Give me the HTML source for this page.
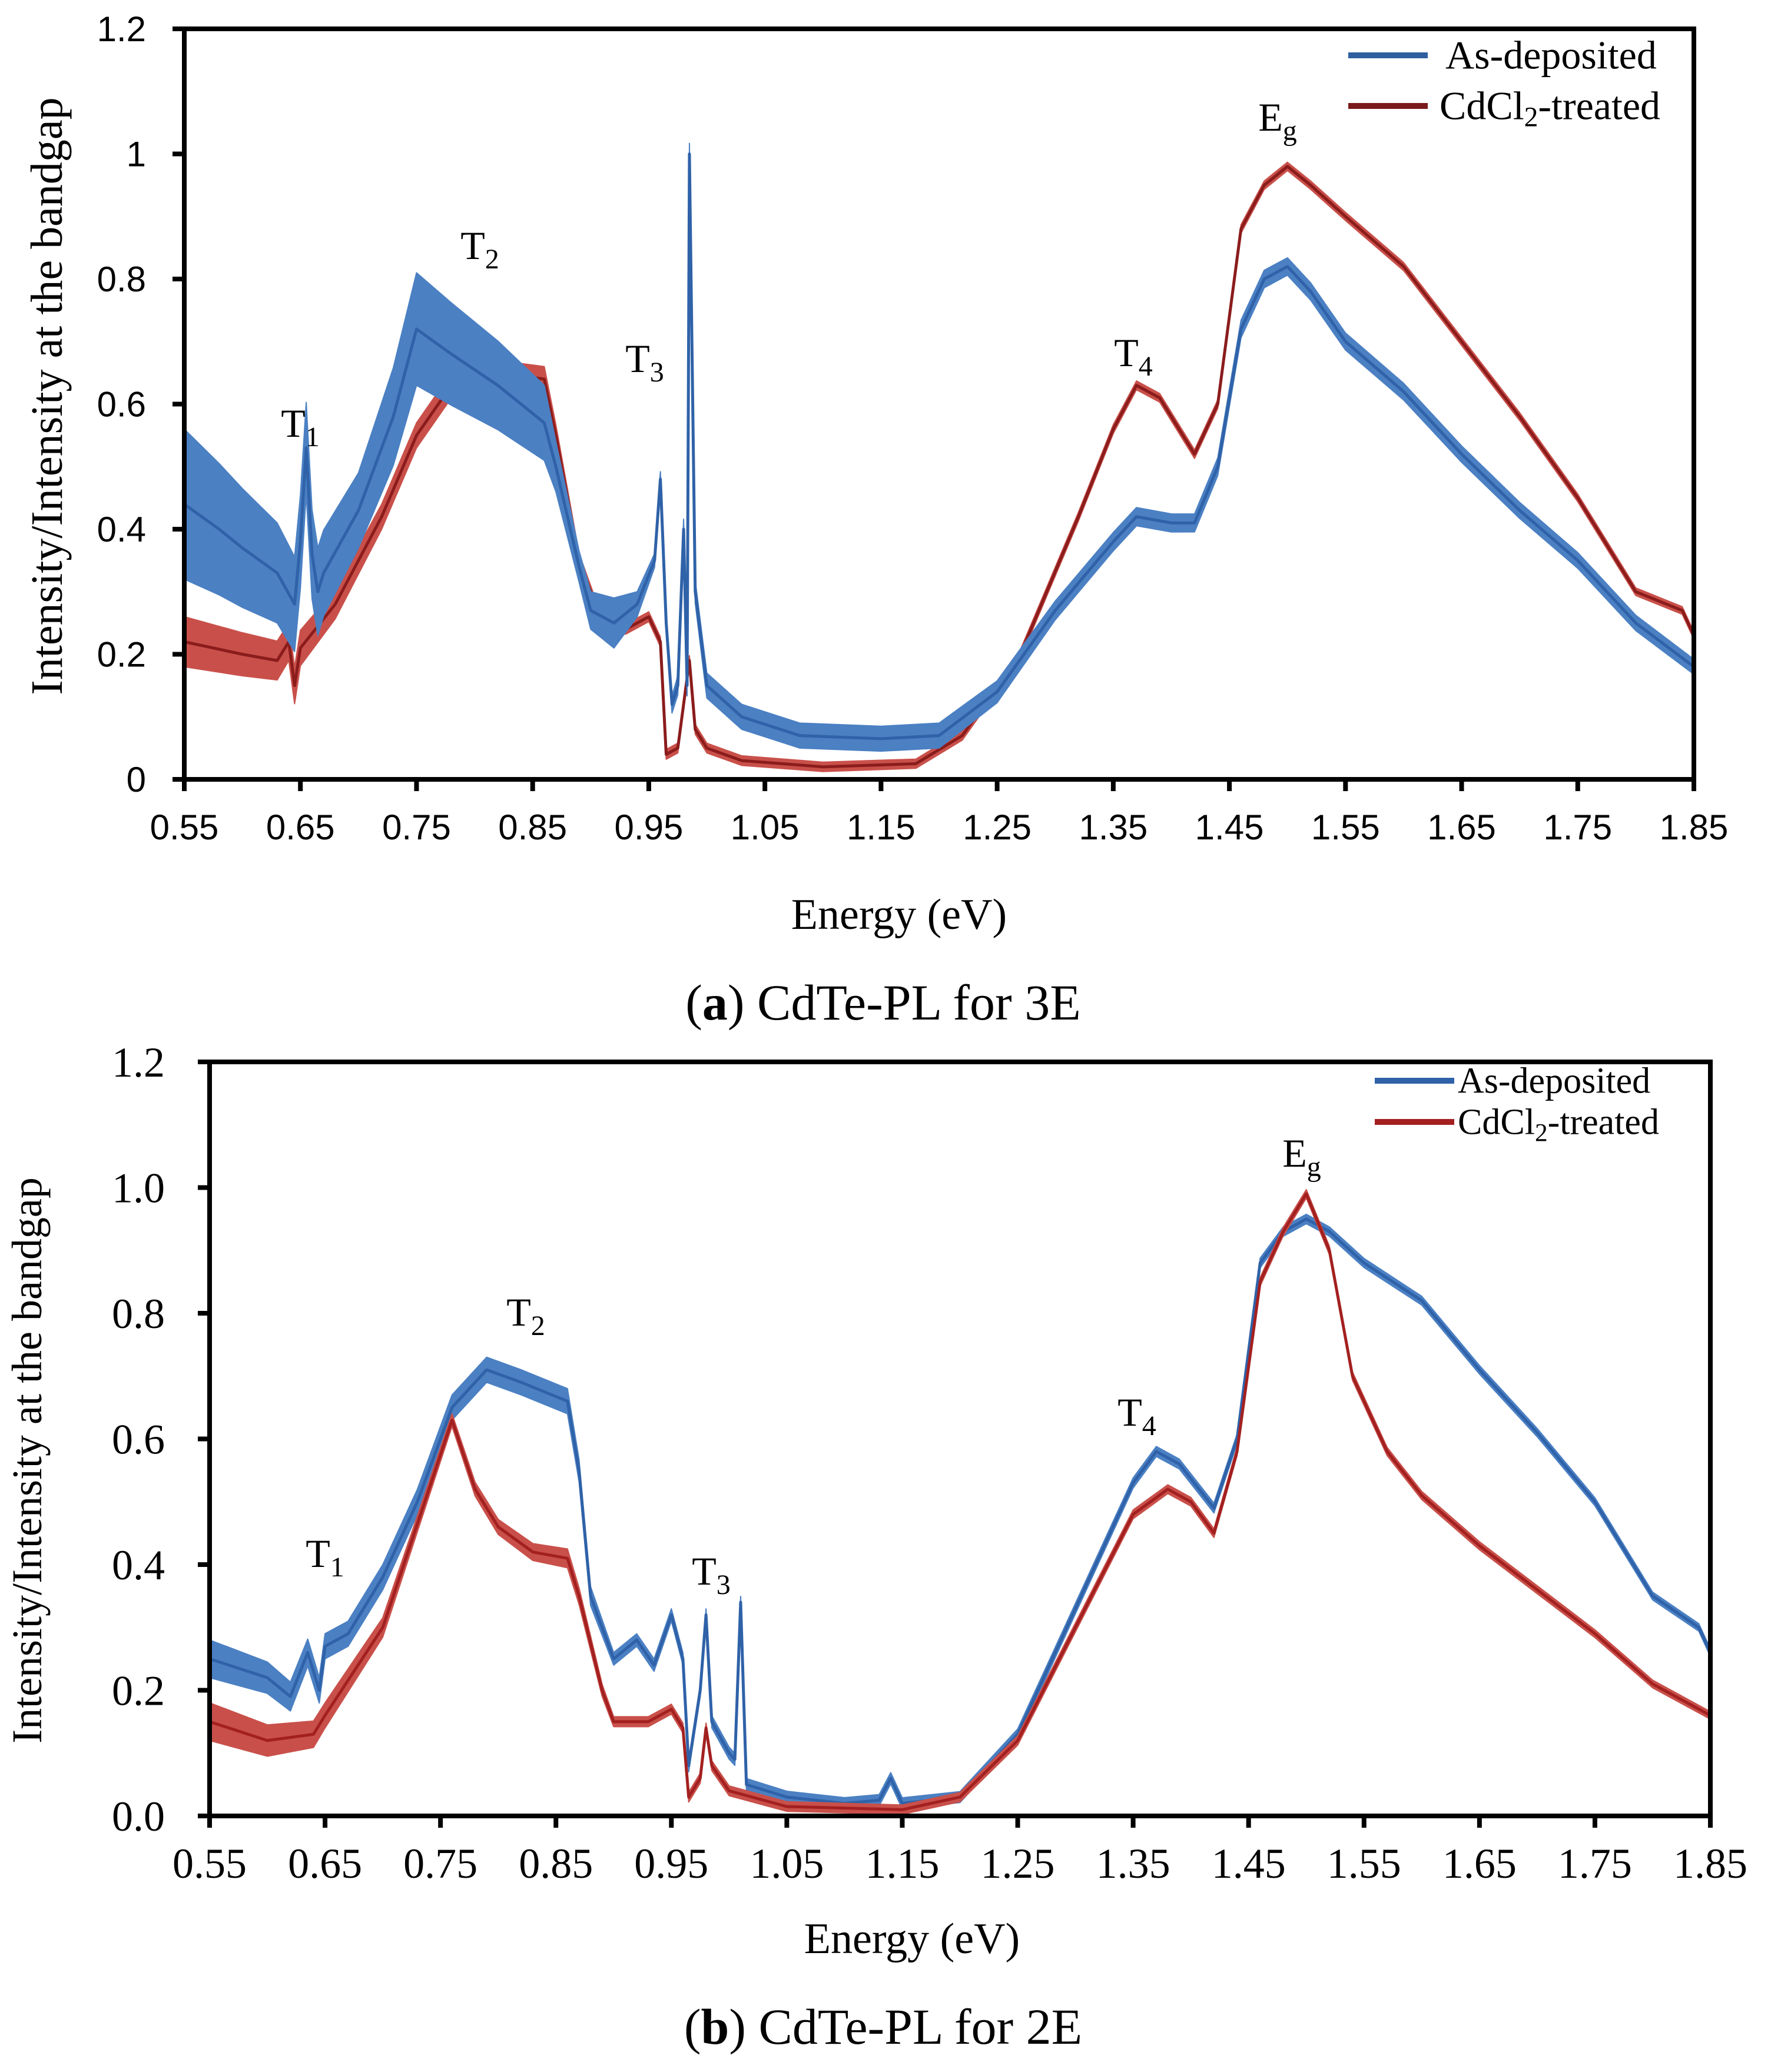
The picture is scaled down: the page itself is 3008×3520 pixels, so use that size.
<!DOCTYPE html>
<html><head><meta charset="utf-8">
<style>
html,body{margin:0;padding:0;background:#fff;}
svg{display:block;}
</style></head>
<body>
<svg id="fig" xmlns="http://www.w3.org/2000/svg" width="3008" height="3520" viewBox="0 0 3008 3520">
<rect width="3008" height="3520" fill="#fff"/>
<g id="pa"></g>
<g id="pb"></g>
</svg>
<script>
const xTicks = [0.55,0.65,0.75,0.85,0.95,1.05,1.15,1.25,1.35,1.45,1.55,1.65,1.75,1.85];
const yTicks = [0,0.2,0.4,0.6,0.8,1.0,1.2];
const yLabelsA = ["0","0.2","0.4","0.6","0.8","1","1.2"];
const yLabelsB = ["0.0","0.2","0.4","0.6","0.8","1.0","1.2"];

// Panel a, as-deposited
const aBlueX = [0.55,0.58,0.60,0.63,0.645,0.65,0.655,0.66,0.665,0.67,0.70,0.73,0.75,0.78,0.82,0.86,0.87,0.89,0.90,0.92,0.94,0.955,0.96,0.965,0.97,0.975,0.98,0.983,0.985,0.99,1.0,1.03,1.08,1.15,1.2,1.25,1.3,1.35,1.37,1.40,1.42,1.44,1.46,1.48,1.50,1.52,1.55,1.60,1.65,1.70,1.75,1.80,1.85];
const aBlueY = [0.44,0.40,0.37,0.33,0.28,0.38,0.53,0.36,0.30,0.33,0.43,0.58,0.72,0.68,0.63,0.57,0.50,0.34,0.27,0.25,0.28,0.35,0.48,0.25,0.12,0.15,0.40,0.15,1.0,0.30,0.15,0.10,0.07,0.065,0.07,0.14,0.27,0.38,0.42,0.41,0.41,0.50,0.72,0.80,0.82,0.78,0.70,0.62,0.52,0.43,0.35,0.25,0.18];
const aBlueSpreadX = [0.55,0.63,0.70,0.75,0.86,0.88,0.92,0.95,1.0,1.2,1.3,1.85];
const aBlueSpread = [0.12,0.08,0.06,0.09,0.06,0.02,0.04,0.01,0.02,0.02,0.015,0.012];
// Panel a, CdCl2-treated
const aRedX = [0.55,0.60,0.63,0.64,0.645,0.65,0.68,0.72,0.75,0.78,0.82,0.86,0.87,0.89,0.91,0.93,0.95,0.96,0.965,0.975,0.985,0.99,1.0,1.03,1.1,1.18,1.22,1.27,1.32,1.35,1.37,1.39,1.42,1.44,1.46,1.48,1.50,1.52,1.55,1.60,1.65,1.70,1.75,1.80,1.84,1.85];
const aRedY = [0.22,0.20,0.19,0.22,0.15,0.21,0.28,0.42,0.55,0.63,0.65,0.64,0.55,0.35,0.25,0.24,0.26,0.22,0.04,0.05,0.19,0.08,0.05,0.03,0.02,0.025,0.07,0.20,0.42,0.56,0.63,0.61,0.52,0.60,0.88,0.95,0.98,0.95,0.90,0.82,0.70,0.58,0.45,0.30,0.27,0.23];
const aRedSpreadX = [0.55,0.64,0.70,0.86,0.9,1.85];
const aRedSpread = [0.04,0.03,0.02,0.02,0.008,0.006];

// Panel b, as-deposited
const bBlueX = [0.55,0.60,0.62,0.635,0.645,0.65,0.67,0.70,0.73,0.76,0.79,0.82,0.86,0.87,0.88,0.90,0.92,0.935,0.95,0.96,0.965,0.975,0.98,0.985,1.0,1.005,1.01,1.015,1.05,1.1,1.13,1.14,1.15,1.2,1.25,1.3,1.35,1.37,1.39,1.42,1.44,1.46,1.48,1.50,1.52,1.55,1.60,1.65,1.70,1.75,1.80,1.84,1.85];
const bBlueY = [0.25,0.22,0.19,0.26,0.20,0.27,0.29,0.38,0.50,0.65,0.71,0.69,0.66,0.55,0.35,0.25,0.28,0.24,0.32,0.25,0.08,0.20,0.32,0.15,0.10,0.09,0.34,0.05,0.03,0.02,0.025,0.06,0.02,0.03,0.13,0.33,0.53,0.58,0.56,0.49,0.60,0.88,0.93,0.95,0.93,0.88,0.82,0.71,0.61,0.50,0.35,0.30,0.26];
const bBlueSpreadX = [0.55,0.65,0.76,0.86,0.9,1.85];
const bBlueSpread = [0.03,0.02,0.02,0.02,0.01,0.006];
// Panel b, CdCl2-treated
const bRedX = [0.55,0.60,0.64,0.65,0.70,0.74,0.76,0.78,0.80,0.83,0.86,0.87,0.89,0.90,0.93,0.95,0.96,0.965,0.975,0.98,0.985,1.0,1.05,1.15,1.2,1.25,1.3,1.35,1.38,1.40,1.42,1.44,1.46,1.48,1.50,1.52,1.54,1.57,1.60,1.65,1.70,1.75,1.80,1.85];
const bRedY = [0.15,0.12,0.13,0.16,0.30,0.52,0.63,0.52,0.46,0.42,0.41,0.35,0.20,0.15,0.15,0.17,0.14,0.03,0.06,0.14,0.08,0.04,0.015,0.01,0.03,0.12,0.30,0.48,0.52,0.50,0.45,0.58,0.85,0.93,0.99,0.90,0.70,0.58,0.51,0.43,0.36,0.29,0.21,0.16];
const bRedSpreadX = [0.55,0.65,0.76,0.86,0.9,1.85];
const bRedSpread = [0.03,0.02,0.01,0.015,0.008,0.006];

const NS = "http://www.w3.org/2000/svg";
function el(parent, tag, attrs, text){
  const e = document.createElementNS(NS, tag);
  for (const k in attrs) e.setAttribute(k, attrs[k]);
  if (text !== undefined) e.textContent = text;
  parent.appendChild(e);
  return e;
}
function interp(xs, vs, x){
  if (x <= xs[0]) return vs[0];
  for (let i=1;i<xs.length;i++) if (x <= xs[i]) { const t=(x-xs[i-1])/(xs[i]-xs[i-1]); return vs[i-1]+t*(vs[i]-vs[i-1]); }
  return vs[vs.length-1];
}

function drawPanel(g, cfg){
  const {L,R,T,B} = cfg;
  const sx = v => L + (v-0.55)/(1.85-0.55)*(R-L);
  const sy = v => B - v/1.2*(B-T);
  const ser = cfg.series;
  ser.forEach(s => {
    const up = s.x.map((x,i)=> sx(x)+","+sy(s.y[i]+interp(s.sx,s.sp,x)));
    const dn = s.x.map((x,i)=> sx(x)+","+sy(Math.max(0,s.y[i]-interp(s.sx,s.sp,x)))).reverse();
    const band = el(g,"polygon",{points:up.concat(dn).join(" "),fill:s.fill,stroke:s.fill,"stroke-width":2,"stroke-linejoin":"round"});
    
    
    const line = el(g,"polyline",{points:s.x.map((x,i)=>sx(x)+","+sy(s.y[i])).join(" "),fill:"none",stroke:s.color,"stroke-width":5,"stroke-linejoin":"round"});
    
    
  });
  const ax = el(g,"path",{d:`M${L},${T} H${R} V${B} H${L} Z`,fill:"none",stroke:"#000","stroke-width":8});
  
  
  xTicks.forEach(v=>{
    const t = el(g,"line",{x1:sx(v),x2:sx(v),y1:B,y2:B+20,stroke:"#000","stroke-width":8});
    
    
    const lb = el(g,"text",{x:sx(v),y:cfg.xLabY,"text-anchor":"middle","font-size":cfg.tickFs,"font-family":cfg.tickFont},v.toFixed(2));
    
    
  });
  yTicks.forEach((v,i)=>{
    const t = el(g,"line",{x1:L-20,x2:L,y1:sy(v),y2:sy(v),stroke:"#000","stroke-width":8});
    
    
    const lb = el(g,"text",{x:cfg.yLabX,y:sy(v)+cfg.tickFs*0.35,"text-anchor":"end","font-size":cfg.tickFs,"font-family":cfg.tickFont},cfg.yLabels[i]);
    
    
  });
  const xt = el(g,"text",{x:cfg.xTitle[0],y:cfg.xTitle[1],"text-anchor":"middle","font-size":74,"font-family":"Liberation Serif, serif"},"Energy (eV)");
  
  
  const yt = el(g,"text",{x:0,y:0,transform:`translate(${cfg.yTitle[0]},${cfg.yTitle[1]}) rotate(-90)`,"text-anchor":"middle","font-size":cfg.yTitleFs,"font-family":"Liberation Serif, serif"},"Intensity/Intensity at the bandgap");
  
  
  const cap = el(g,"text",{x:cfg.cap[0],y:cfg.cap[1],"text-anchor":"middle","font-size":86,"font-family":"Liberation Serif, serif"});
  
  
  el(cap,"tspan",{},"(");
  el(cap,"tspan",{"font-weight":"bold"},cfg.letter);
  el(cap,"tspan",{},") "+cfg.capText);
  cfg.legend.forEach(lg=>{
    const ln = el(g,"line",{x1:lg.x1,x2:lg.x2,y1:lg.y,y2:lg.y,stroke:lg.color,"stroke-width":10});
    
    
    const tx = el(g,"text",{x:lg.tx,y:lg.y+cfg.legFs*0.33,"font-size":cfg.legFs,"font-family":"Liberation Serif, serif"});
    
    
    if (lg.sub){ el(tx,"tspan",{},"CdCl"); el(tx,"tspan",{"font-size":cfg.legFs*0.7,dy:12},"2"); el(tx,"tspan",{dy:-12},"-treated"); }
    else tx.textContent = lg.label;
  });
  cfg.ann.forEach(a=>{
    const tx = el(g,"text",{x:a[1],y:a[2],"font-size":68,"font-family":"Liberation Serif, serif","text-anchor":"middle"});
    
    
    el(tx,"tspan",{},a[0]);
    el(tx,"tspan",{"font-size":48,dy:16},a[3]);
  });
}

drawPanel(document.getElementById('pa'),{
  L:313,R:2877,T:49,B:1324, xLabY:1426, yLabX:248, tickFs:60, tickFont:"Liberation Sans, sans-serif", yLabels:yLabelsA,
  xTitle:[1527,1578], yTitle:[105,673], yTitleFs:76, cap:[1500,1732], letter:"a", capText:"CdTe-PL for 3E", legFs:68,
  legend:[{x1:2290,x2:2425,y:94,color:"#2f5f9e",tx:2455,label:"As-deposited"},{x1:2290,x2:2425,y:180,color:"#7b1a1a",tx:2445,sub:true}],
  ann:[["T",510,742,"1"],["T",815,440,"2"],["T",1095,632,"3"],["T",1925,622,"4"],["E",2170,222,"g"]],
  series:[
    {name:"treated-3e",x:aRedX,y:aRedY,sx:aRedSpreadX,sp:aRedSpread,fill:"#c9504a",color:"#8b1c1c"},
    {name:"as-deposited-3e",x:aBlueX,y:aBlueY,sx:aBlueSpreadX,sp:aBlueSpread,fill:"#4b80c3",color:"#2f62a8"}
  ]
});
drawPanel(document.getElementById('pb'),{
  L:356,R:2905,T:1804,B:3085, xLabY:3190, yLabX:280, tickFs:72, tickFont:"Liberation Serif, serif", yLabels:yLabelsB,
  xTitle:[1549,3318], yTitle:[70,2481], yTitleFs:72, cap:[1500,3472], letter:"b", capText:"CdTe-PL for 2E", legFs:62,
  legend:[{x1:2335,x2:2470,y:1836,color:"#2f62a8",tx:2476,label:"As-deposited"},{x1:2335,x2:2470,y:1906,color:"#a32020",tx:2476,sub:true}],
  ann:[["T",552,2662,"1"],["T",893,2252,"2"],["T",1208,2692,"3"],["T",1931,2422,"4"],["E",2211,1982,"g"]],
  series:[
    {name:"as-deposited-2e",x:bBlueX,y:bBlueY,sx:bBlueSpreadX,sp:bBlueSpread,fill:"#4b80c3",color:"#2f62a8"},
    {name:"treated-2e",x:bRedX,y:bRedY,sx:bRedSpreadX,sp:bRedSpread,fill:"#c9504a",color:"#a32020"}
  ]
});
</script>
</body></html>
